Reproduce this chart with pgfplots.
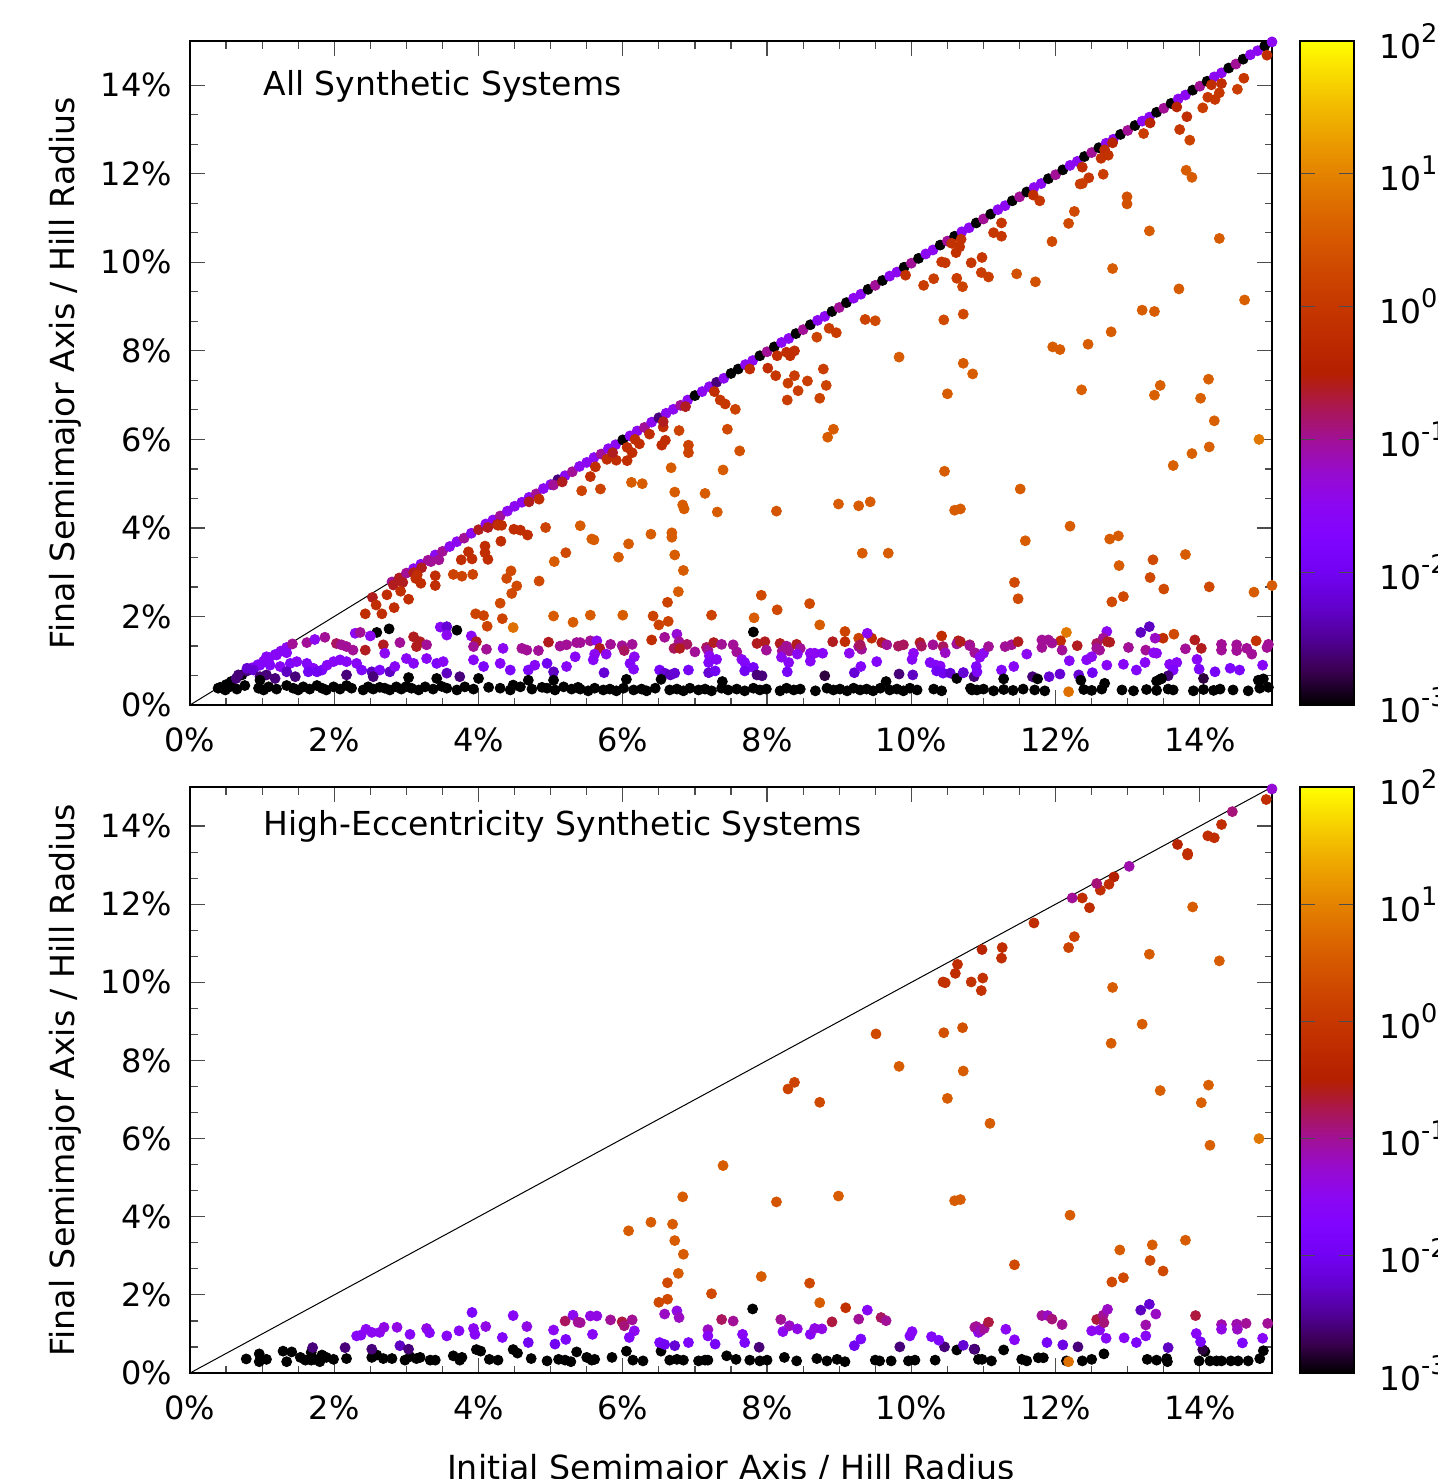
\documentclass[border=0pt]{standalone}
\usepackage{fontspec}
\setmainfont{DejaVu Sans}
\usepackage{pgfplots}
\pgfplotsset{compat=1.18}
\usepackage{pgfplotstable}

\newcommand\cbexp[1]{10\raisebox{0.48em}{\fontsize{12.8}{14}\selectfont #1}}

% gnuplot rgbformulae 7,5,15 sampled at 0.05
\pgfplotsset{colormap={gnu}{
  rgb=(0,0,0) rgb=(0.224,0.0001,0.309) rgb=(0.316,0.001,0.588) rgb=(0.387,0.003,0.809)
  rgb=(0.447,0.008,0.951) rgb=(0.5,0.016,1) rgb=(0.548,0.027,0.951) rgb=(0.592,0.043,0.809)
  rgb=(0.632,0.064,0.588) rgb=(0.671,0.091,0.309) rgb=(0.707,0.125,0) rgb=(0.742,0.166,0)
  rgb=(0.775,0.216,0) rgb=(0.806,0.275,0) rgb=(0.837,0.343,0) rgb=(0.866,0.422,0)
  rgb=(0.894,0.512,0) rgb=(0.922,0.614,0) rgb=(0.949,0.729,0) rgb=(0.975,0.857,0) rgb=(1,1,0)}}

% x = initial a/R_H (%), y = final a/R_H (%), c = log10 of colour quantity
\pgfplotstableread{
x y c
0.39 0.38 -3
0.49 0.34 -3
0.55 0.41 -3
0.65 0.36 -3
0.76 0.44 -3
0.95 0.38 -3
1.02 0.34 -3
1.09 0.41 -3
1.20 0.36 -3
1.34 0.44 -3
1.43 0.38 -3
1.50 0.34 -3
1.57 0.41 -3
1.66 0.36 -3
1.76 0.44 -3
1.83 0.38 -3
1.89 0.34 -3
1.99 0.41 -3
2.08 0.36 -3
2.17 0.44 -3
2.24 0.38 -3
2.40 0.34 -3
2.47 0.41 -3
2.54 0.36 -3
2.63 0.40 -3
2.70 0.38 -3
2.77 0.34 -3
2.86 0.41 -3
2.93 0.36 -3
3.00 0.42 -3
3.07 0.38 -3
3.17 0.34 -3
3.26 0.41 -3
3.37 0.36 -3
3.49 0.42 -3
3.56 0.38 -3
3.70 0.34 -3
3.81 0.41 -3
3.93 0.36 -3
4.14 0.40 -3
4.30 0.38 -3
4.44 0.34 -3
4.58 0.41 -3
4.74 0.36 -3
4.88 0.40 -3
4.95 0.38 -3
5.06 0.34 -3
5.18 0.41 -3
5.29 0.36 -3
5.38 0.40 -3
5.41 0.36 -3
5.52 0.32 -3
5.61 0.38 -3
5.73 0.34 -3
5.82 0.36 -3
5.91 0.32 -3
6.01 0.38 -3
6.15 0.34 -3
6.26 0.36 -3
6.33 0.32 -3
6.45 0.38 -3
6.65 0.34 -3
6.75 0.36 -3
6.84 0.32 -3
6.93 0.38 -3
7.05 0.34 -3
7.14 0.36 -3
7.23 0.32 -3
7.37 0.38 -3
7.46 0.34 -3
7.58 0.36 -3
7.69 0.32 -3
7.81 0.38 -3
7.90 0.34 -3
7.99 0.36 -3
8.18 0.32 -3
8.27 0.38 -3
8.37 0.34 -3
8.46 0.36 -3
8.67 0.32 -3
8.83 0.38 -3
8.92 0.34 -3
9.01 0.36 -3
9.11 0.32 -3
9.20 0.38 -3
9.29 0.34 -3
9.38 0.36 -3
9.47 0.32 -3
9.57 0.38 -3
9.70 0.34 -3
9.80 0.36 -3
9.89 0.32 -3
9.98 0.38 -3
10.08 0.34 -3
10.31 0.36 -3
10.42 0.32 -3
10.82 0.38 -3
10.91 0.34 -3
10.84 0.34 -3
11.00 0.36 -3
11.14 0.32 -3
11.28 0.35 -3
11.41 0.33 -3
11.55 0.36 -3
11.71 0.34 -3
11.85 0.32 -3
12.39 0.35 -3
12.50 0.33 -3
12.64 0.36 -3
12.92 0.34 -3
13.08 0.32 -3
13.26 0.35 -3
13.40 0.33 -3
13.56 0.36 -3
13.63 0.34 -3
13.91 0.32 -3
14.05 0.35 -3
14.19 0.33 -3
14.28 0.36 -3
14.46 0.34 -3
14.67 0.32 -3
14.83 0.38 -3
14.95 0.40 -3
12.18 0.30 0.8
0.42 0.40 -3
0.50 0.46 -3
0.57 0.53 -3
0.64 0.60 -2.6
0.72 0.68 -3
0.79 0.77 -2.6
0.86 0.84 -1.5
0.94 0.91 -1.8
1.02 0.99 -1.5
1.10 1.07 -1.5
1.18 1.14 -1.8
1.26 1.22 -1.5
1.34 1.30 -1.5
1.42 1.38 -1.0
2.8 2.78 -1.0
2.9 2.87 -0.6
3.0 2.98 -1.0
3.1 3.08 -1.5
3.2 3.18 -1.5
3.3 3.27 -1.0
3.4 3.39 -1.5
3.5 3.47 -1.0
3.6 3.58 -1.5
3.7 3.69 -1.5
3.8 3.77 -1.0
3.9 3.88 -1.5
4.0 3.96 -0.6
4.1 4.09 -1.5
4.2 4.18 -1.5
4.3 4.27 -1.0
4.4 4.38 -1.5
4.5 4.49 -1.5
4.6 4.58 -1.5
4.7 4.69 -1.5
4.8 4.77 -1.0
4.9 4.89 -1.5
5.0 4.98 -1.5
5.1 5.09 -2.6
5.2 5.18 -1.5
5.3 5.27 -1.0
5.4 5.39 -1.5
5.5 5.48 -1.5
5.6 5.59 -1.5
5.7 5.67 -1.0
5.8 5.79 -1.5
5.9 5.88 -1.5
6.0 5.99 -3
6.1 6.08 -1.5
6.2 6.19 -1.5
6.3 6.27 -1.0
6.4 6.39 -1.5
6.5 6.49 -2.6
6.6 6.59 -1.5
6.7 6.68 -1.5
6.8 6.77 -1.0
6.9 6.89 -1.5
7.0 6.99 -3
7.1 7.08 -1.5
7.2 7.19 -1.5
7.3 7.29 -2.6
7.4 7.38 -1.5
7.5 7.49 -3
7.6 7.59 -3
7.7 7.69 -1.5
7.8 7.78 -1.5
7.9 7.89 -3
8.0 7.98 -1.0
8.1 8.09 -3
8.2 8.19 -1.5
8.3 8.28 -1.5
8.4 8.39 -3
8.5 8.48 -1.0
8.6 8.59 -3
8.7 8.69 -1.5
8.8 8.78 -1.5
8.9 8.89 -3
9.0 8.98 -1.0
9.1 9.09 -3
9.2 9.19 -1.5
9.3 9.28 -1.5
9.4 9.39 -3
9.5 9.48 -1.0
9.6 9.59 -3
9.7 9.69 -1.5
9.8 9.78 -1.5
9.9 9.89 -3
10.0 9.98 -1.0
10.1 10.09 -3
10.2 10.19 -1.5
10.3 10.28 -1.5
10.4 10.39 -3
10.5 10.48 -1.0
10.6 10.59 -3
10.7 10.69 -1.5
10.8 10.78 -1.5
10.9 10.89 -3
11.0 10.98 -1.0
11.1 11.09 -3
11.2 11.19 -1.5
11.3 11.28 -1.5
11.4 11.39 -3
11.5 11.48 -1.0
11.6 11.59 -3
11.7 11.69 -1.5
11.8 11.78 -1.5
11.9 11.89 -3
12.0 11.98 -1.0
12.1 12.09 -3
12.2 12.19 -1.5
12.3 12.28 -1.5
12.4 12.39 -3
12.5 12.48 -1.0
12.6 12.59 -3
12.7 12.69 -1.5
12.8 12.78 -1.5
12.9 12.89 -3
13.0 12.98 -1.0
13.1 13.09 -3
13.2 13.19 -1.5
13.3 13.28 -1.5
13.4 13.39 -3
13.5 13.48 -1.0
13.6 13.59 -3
13.7 13.69 -1.5
13.8 13.78 -1.5
13.9 13.89 -3
14.0 13.98 -1.0
14.1 14.09 -3
14.2 14.19 -1.5
14.3 14.28 -1.5
14.4 14.39 -3
14.5 14.48 -1.0
14.6 14.59 -3
14.7 14.69 -1.5
14.8 14.78 -1.5
14.9 14.89 -3
15.0 14.98 -1.5
3.10 2.99 -0.6
3.21 3.10 -0.6
3.45 3.28 -1.0
3.34 3.24 -1.0
4.26 4.08 -0.6
4.70 4.59 -0.6
4.84 4.65 -0.2
5.04 4.97 -1.0
5.16 5.04 -0.6
5.62 5.38 -0.2
5.55 5.16 -0.2
5.43 4.84 0.2
5.69 4.88 0.2
5.78 5.55 -0.2
5.91 5.53 -0.2
6.06 5.52 -0.2
5.86 5.70 -0.6
6.06 5.82 -0.2
6.13 5.70 -0.2
6.17 6.00 -0.2
6.23 5.90 -0.2
6.37 6.12 -0.2
6.56 6.28 -0.2
6.54 5.87 -0.2
6.59 5.98 -0.2
6.56 6.40 -0.6
6.87 6.74 -0.6
6.12 5.03 0.55
6.27 5.00 0.55
4.32 4.06 -0.2
4.13 4.01 -0.6
6.78 6.20 0.2
6.91 5.87 0.2
6.91 5.70 0.2
6.67 5.36 0.55
6.72 4.81 0.55
6.83 4.52 0.55
6.85 4.43 0.55
6.39 3.86 0.55
6.68 3.89 0.55
6.68 3.79 0.55
6.08 3.64 0.55
6.72 3.39 0.55
6.84 3.04 0.55
5.94 3.34 0.55
6.77 2.56 0.55
6.62 2.32 0.2
6.63 1.89 0.2
6.50 1.81 0.2
6.42 2.01 0.2
7.23 2.03 0.2
6.00 2.03 0.55
5.55 2.03 0.55
5.31 1.87 0.55
5.04 2.01 0.55
4.48 1.75 0.8
4.12 1.78 0.2
3.96 2.06 0.2
4.07 2.02 0.2
4.33 1.95 0.2
4.30 2.30 0.3
4.46 2.52 0.3
4.39 2.86 0.3
4.45 3.03 0.3
4.53 2.69 0.3
4.84 2.80 0.3
5.05 3.24 0.55
5.21 3.44 0.3
5.57 3.75 0.55
5.60 3.73 0.55
5.41 4.05 0.55
4.93 4.01 0.2
4.68 3.84 -0.2
4.49 3.97 -0.2
4.58 3.95 -0.2
4.27 4.06 -0.2
4.31 3.70 -0.2
4.09 3.59 -0.2
4.09 3.44 -0.2
4.13 3.29 -0.2
3.91 3.30 -0.2
3.86 3.46 -0.2
3.76 3.28 -0.2
3.65 2.95 0.2
3.77 2.91 0.2
3.92 2.95 0.2
3.40 2.92 -0.2
3.40 2.70 -0.2
3.15 2.94 -0.2
3.13 2.86 -0.2
3.20 2.75 -0.2
2.82 2.71 -0.6
2.95 2.77 -0.6
2.92 2.57 -0.2
3.03 2.39 -0.2
2.73 2.49 -0.2
2.53 2.43 -0.6
2.58 2.26 -0.2
2.83 2.20 -0.2
2.66 2.06 -0.2
2.43 2.06 -0.2
8.14 7.89 -0.2
8.27 7.97 -0.2
8.32 7.89 -0.2
8.38 8.00 -0.2
8.01 7.61 -0.2
8.12 7.44 0.0
8.38 7.44 0.1
8.29 7.27 0.1
8.43 7.10 0.1
8.56 7.32 0.1
8.78 7.59 0.1
8.82 7.22 0.2
8.73 6.93 0.2
8.28 6.89 0.1
7.76 7.59 -0.2
7.35 6.89 0.0
7.42 6.80 0.0
7.56 6.68 0.2
7.45 6.23 0.3
7.62 5.74 0.4
7.39 5.31 0.55
7.27 7.08 -0.2
8.92 6.23 0.55
8.84 6.05 0.55
9.83 7.86 0.55
10.72 7.72 0.55
10.85 7.48 0.55
10.50 7.03 0.55
11.96 8.09 0.55
12.06 8.03 0.55
12.45 8.15 0.55
12.36 7.12 0.6
13.45 7.22 0.6
13.37 7.00 0.6
14.12 7.36 0.6
14.01 6.93 0.6
14.20 6.42 0.6
14.82 6.00 0.9
14.13 5.83 0.6
13.89 5.68 0.6
13.63 5.41 0.6
10.46 5.28 0.55
11.51 4.88 0.55
8.99 4.54 0.55
9.27 4.50 0.55
9.43 4.59 0.55
8.13 4.38 0.45
10.60 4.40 0.55
10.68 4.43 0.55
12.20 4.04 0.55
12.75 3.75 0.55
12.87 3.82 0.55
11.58 3.71 0.55
9.32 3.43 0.55
9.68 3.43 0.55
13.35 3.28 0.3
13.80 3.40 0.55
12.88 3.15 0.55
13.31 2.88 0.3
13.50 2.62 0.3
11.43 2.77 0.3
11.48 2.40 0.3
12.78 2.33 0.3
12.94 2.45 0.3
14.13 2.67 0.3
14.75 2.55 0.55
15.00 2.70 0.55
7.92 2.48 0.3
8.14 2.15 0.3
7.82 1.97 0.55
8.59 2.29 0.3
8.73 1.81 0.55
7.14 4.78 0.55
7.31 4.36 0.55
10.67 10.35 -0.1
10.62 10.22 -0.1
10.69 10.52 -0.1
10.56 10.43 -0.1
9.92 9.71 -0.1
10.98 10.11 0.0
10.83 9.99 0.0
10.97 9.77 0.1
11.07 9.67 0.1
11.46 9.74 0.4
11.72 9.56 0.4
12.79 9.86 0.55
10.42 10.01 0.0
10.47 9.99 0.0
10.63 9.64 0.1
10.71 9.45 0.2
10.31 9.63 0.1
10.17 9.48 0.1
13.71 9.40 0.55
14.62 9.15 0.6
13.20 8.92 0.55
13.37 8.89 0.55
12.77 8.43 0.55
10.72 8.83 0.3
10.45 8.70 0.3
9.36 8.71 0.2
9.50 8.68 0.3
8.86 8.51 0.1
8.96 8.41 0.1
8.69 8.31 0.2
11.25 10.89 0.0
11.14 10.67 0.0
11.25 10.59 0.0
11.95 10.47 0.3
13.30 10.71 0.55
14.27 10.54 0.55
14.93 14.68 -0.2
14.61 14.16 0.0
14.52 13.91 0.1
14.30 14.04 -0.2
14.16 14.01 -0.2
14.11 13.73 0.0
14.21 13.68 0.0
14.27 13.83 0.0
14.04 13.49 0.1
13.82 13.29 -0.2
13.68 13.51 -0.4
13.72 13.00 0.0
13.86 12.76 0.2
13.22 12.91 0.1
13.81 12.08 0.55
13.89 11.92 0.55
13.31 13.15 -0.4
12.79 12.70 -0.4
12.68 12.54 -0.2
12.63 12.35 -0.1
12.73 12.42 -0.1
12.66 11.99 0.1
12.46 11.91 0.0
12.34 11.77 0.1
12.37 11.78 0.1
12.37 12.15 -0.2
11.78 11.39 0.0
11.69 11.52 -0.2
12.99 11.48 0.4
12.99 11.32 0.4
12.26 11.15 0.3
12.18 10.88 0.3
2.59 1.64 -3
2.76 1.72 -3
2.29 1.62 -1.5
2.36 1.64 -1.0
2.50 1.56 -1.5
1.62 1.41 -1.0
1.73 1.48 -1.5
1.87 1.53 -1.0
2.03 1.39 -0.8
2.10 1.36 -1.0
2.17 1.32 -1.0
2.26 1.24 -1.0
2.43 1.24 -0.6
2.68 1.36 -0.6
2.70 1.17 -1.5
2.91 1.41 -1.0
3.10 1.54 -0.6
3.19 1.43 -0.6
3.28 1.36 -1.0
3.47 1.76 -1.6
3.56 1.77 -2.2
3.70 1.69 -3
3.56 1.58 -1.5
3.14 1.32 -0.6
3.90 1.56 -1.5
3.97 1.43 -0.6
3.93 1.32 -1.0
4.11 1.26 -1.0
4.34 1.28 -1.5
4.60 1.28 -1.0
4.67 1.24 -1.0
4.83 1.23 -1.0
4.97 1.42 -0.6
5.13 1.33 -1.0
5.22 1.36 -1.0
5.36 1.41 -1.0
1.06 1.09 -1.6
1.20 1.13 -1.6
1.34 1.18 -1.6
0.97 0.90 -1.7
1.11 0.90 -1.7
1.25 0.87 -1.6
1.39 0.94 -1.7
0.67 0.68 -2.6
0.79 0.83 -2.2
0.88 0.79 -2.2
0.97 0.64 -2.6
1.06 0.68 -2.6
1.48 0.98 -1.6
1.62 0.94 -1.7
1.71 0.83 -1.6
1.83 0.79 -1.8
1.90 0.90 -1.6
1.99 0.98 -1.6
2.08 1.02 -1.6
1.34 0.75 -2.3
1.46 0.64 -2.6
1.64 0.75 -2.0
1.76 0.75 -2.0
2.17 0.98 -1.6
2.31 0.94 -1.6
2.38 0.79 -1.8
2.52 0.75 -2.3
2.63 0.79 -1.8
2.77 0.75 -2.3
2.84 0.87 -1.6
3.00 1.05 -1.6
3.10 0.94 -1.6
3.28 1.05 -1.6
3.42 0.94 -1.8
3.51 0.98 -1.6
3.56 0.72 -2.3
3.74 0.64 -2.6
3.93 1.02 -1.6
4.07 0.87 -1.8
4.30 0.94 -1.6
4.44 0.79 -1.8
4.69 0.79 -1.8
4.78 0.90 -1.6
4.95 0.94 -2.0
5.04 0.75 -2.3
5.22 0.87 -1.6
5.34 1.09 -1.6
4.00 0.60 -3
4.48 0.45 -3
4.69 0.56 -3
5.04 0.56 -3
3.42 0.60 -3
2.17 0.68 -2.6
2.54 0.64 -2.6
3.03 0.62 -3
0.97 0.56 -3
1.18 0.60 -2.6
7.81 1.65 -3
6.40 1.47 -0.2
9.08 1.66 0.2
9.08 1.43 -0.2
9.27 1.51 0.2
9.45 1.51 -0.2
9.39 1.62 -1.5
10.42 1.56 -0.2
5.41 1.41 -1.0
5.55 1.45 -1.0
5.64 1.45 -1.5
5.68 1.28 -0.6
5.61 1.15 -1.5
5.59 1.02 -1.6
5.77 1.15 -1.5
5.83 1.37 -1.0
5.99 1.34 -1.0
6.02 1.23 -0.8
6.13 1.37 -1.0
6.16 1.09 -1.5
6.10 0.94 -1.7
6.15 0.81 -1.7
6.58 1.53 -1.0
6.75 1.60 -1.3
6.78 1.43 -1.0
6.71 1.28 -0.8
6.89 1.37 -0.8
6.79 1.28 -0.6
7.00 1.20 -1.0
7.16 1.30 -0.8
7.18 1.24 -1.0
7.20 1.11 -1.5
7.19 0.96 -1.7
7.30 1.03 -1.6
7.26 1.41 -0.6
7.37 1.37 -1.0
7.53 1.36 -1.0
7.58 1.20 -1.0
7.65 1.03 -1.5
7.69 0.96 -1.7
7.86 1.39 -0.6
7.97 1.43 -0.6
7.99 1.24 -1.0
8.18 1.39 -0.6
8.27 1.33 -1.0
8.21 1.22 -1.0
8.20 1.08 -1.5
8.31 1.22 -1.0
8.30 0.96 -1.6
8.41 1.37 -0.6
8.46 1.28 -1.0
8.42 1.15 -1.5
8.60 1.17 -1.5
8.66 1.17 -1.5
8.77 1.17 -1.6
8.60 0.99 -1.6
8.91 1.43 -0.6
9.14 1.17 -1.5
9.21 0.73 -2.2
9.30 0.87 -1.7
9.52 0.98 -1.7
9.27 1.32 -1.0
9.31 1.26 -1.0
9.29 1.36 -0.8
9.59 1.41 -0.6
9.66 1.36 -1.0
9.82 1.33 -0.8
9.89 1.36 -0.8
10.12 1.41 -0.6
10.14 1.33 -0.8
10.30 1.36 -1.0
10.44 1.32 -0.8
10.47 1.18 -1.2
10.65 1.45 -0.6
10.63 1.38 -1.0
10.81 1.36 -0.8
10.88 1.18 -1.0
10.03 1.17 -1.5
10.01 1.03 -1.6
10.26 0.96 -1.7
10.34 0.90 -1.7
10.40 0.88 -1.6
5.74 0.73 -2.2
6.51 0.79 -1.9
6.58 0.72 -2.2
6.66 0.68 -2.3
6.72 0.72 -2.2
6.91 0.79 -1.9
7.19 0.73 -2.2
7.28 0.77 -2.0
7.69 0.77 -2.0
7.81 0.85 -1.9
7.86 0.68 -2.6
7.93 0.66 -2.6
8.28 0.75 -1.9
8.80 0.66 -2.8
9.83 0.70 -2.6
10.02 0.68 -2.3
10.35 0.77 -2.0
10.44 0.72 -2.0
10.54 0.72 -2.2
10.72 0.73 -1.9
10.87 0.64 -2.6
6.05 0.58 -3
6.53 0.58 -3
7.38 0.53 -3
9.65 0.53 -3
10.63 0.60 -3
12.15 1.64 0.9
13.64 1.60 0.3
14.78 1.45 -0.1
13.49 1.51 -0.2
13.18 1.64 -2.3
13.30 1.77 -2.3
12.07 1.45 -0.2
12.71 1.66 -1.5
12.66 1.51 -1.0
12.57 1.39 -0.8
12.72 1.43 -0.6
12.75 1.42 -0.6
10.68 1.43 -0.6
10.81 1.34 -1.0
10.95 1.08 -1.5
11.00 1.17 -1.5
11.07 1.32 -1.0
11.30 1.32 -1.0
11.39 1.36 -1.0
11.48 1.43 -0.6
11.60 1.15 -1.5
11.81 1.47 -1.0
11.90 1.47 -1.0
11.81 1.30 -1.0
11.95 1.40 -1.0
12.09 1.24 -1.0
12.30 1.34 -0.6
12.57 1.28 -1.0
12.61 1.24 -1.0
13.01 1.30 -1.0
13.25 1.24 -1.0
13.38 1.51 -1.2
13.40 1.17 -1.5
13.36 1.18 -1.5
13.80 1.27 -1.0
13.93 1.47 -0.6
14.02 1.28 -0.6
14.30 1.24 -1.0
14.30 1.37 -1.0
14.51 1.36 -1.0
14.51 1.23 -1.0
14.65 1.28 -1.0
14.72 1.15 -1.0
14.93 1.30 -1.0
14.95 1.37 -1.0
10.90 0.87 -1.7
10.91 0.75 -1.8
11.25 0.79 -1.7
11.42 0.87 -1.6
12.19 1.00 -1.6
12.43 1.02 -1.6
12.50 1.09 -1.5
12.71 0.90 -1.6
12.94 0.92 -1.6
13.12 0.79 -1.7
13.24 0.96 -1.6
13.58 0.92 -1.6
13.68 0.96 -1.6
13.63 0.79 -1.8
13.96 1.03 -1.6
13.99 0.81 -1.8
14.21 0.75 -1.9
14.42 0.83 -1.8
14.55 0.79 -1.8
14.87 0.90 -1.6
10.72 0.73 -2.2
11.68 0.64 -2.6
11.91 0.64 -2.2
12.06 0.70 -2.2
12.32 0.68 -2.2
12.51 0.73 -2.0
13.56 0.66 -2.6
14.05 0.60 -2.8
13.45 0.58 -2.8
11.28 0.59 -3
11.75 0.59 -3
12.35 0.56 -3
12.68 0.49 -3
13.40 0.54 -3
13.47 0.60 -3
14.81 0.56 -3
14.88 0.59 -3
}\topdata

\pgfplotstableread{
x y c
0.78 0.36 -3
0.96 0.49 -3
0.96 0.29 -3
1.06 0.35 -3
1.29 0.56 -3
1.34 0.29 -3
1.41 0.54 -3
1.53 0.40 -3
1.60 0.33 -3
1.68 0.53 -3
1.68 0.33 -3
1.73 0.35 -3
1.80 0.29 -3
1.83 0.46 -3
1.89 0.40 -3
1.99 0.35 -3
2.17 0.37 -3
2.52 0.40 -3
2.59 0.46 -3
2.68 0.37 -3
2.80 0.37 -3
2.98 0.33 -3
3.05 0.42 -3
3.14 0.37 -3
3.19 0.40 -3
3.33 0.33 -3
3.40 0.33 -3
3.65 0.44 -3
3.77 0.40 -3
3.74 0.33 -3
3.97 0.60 -3
4.03 0.56 -3
4.15 0.35 -3
4.27 0.33 -3
4.48 0.60 -3
4.54 0.51 -3
4.73 0.37 -3
4.95 0.31 -3
5.11 0.35 -3
5.20 0.33 -3
5.28 0.29 -3
5.36 0.54 -3
5.50 0.40 -3
5.57 0.33 -3
5.61 0.35 -3
5.85 0.40 -3
6.05 0.56 -3
6.14 0.33 -3
6.28 0.31 -3
6.53 0.56 -3
6.65 0.33 -3
6.75 0.35 -3
6.84 0.33 -3
7.05 0.31 -3
7.14 0.33 -3
7.18 0.33 -3
7.44 0.44 -3
7.57 0.35 -3
7.76 0.33 -3
7.90 0.31 -3
8.00 0.33 -3
8.24 0.40 -3
8.41 0.31 -3
8.69 0.37 -3
8.83 0.31 -3
8.97 0.35 -3
9.08 0.29 -3
9.50 0.33 -3
9.56 0.31 -3
9.72 0.31 -3
9.96 0.31 -3
10.05 0.33 -3
10.33 0.33 -3
10.63 0.59 -3
10.93 0.35 -3
10.98 0.35 -3
11.11 0.31 -3
11.28 0.59 -3
11.53 0.35 -3
11.60 0.31 -3
11.76 0.39 -3
11.83 0.39 -3
12.15 0.31 -3
12.37 0.31 -3
12.50 0.35 -3
12.67 0.49 -3
13.27 0.35 -3
13.40 0.33 -3
13.54 0.37 -3
13.55 0.29 -3
13.99 0.31 -3
14.07 0.55 -3
14.14 0.31 -3
14.23 0.31 -3
14.30 0.31 -3
14.43 0.31 -3
14.53 0.31 -3
14.67 0.31 -3
14.83 0.37 -3
14.88 0.57 -3
7.80 1.64 -3
12.18 0.29 0.8
1.70 0.65 -2.6
2.15 0.65 -2.6
2.52 0.61 -2.6
2.91 0.70 -2.3
3.03 0.61 -2.6
7.89 0.66 -2.6
9.84 0.67 -2.6
10.46 0.67 -2.6
10.88 0.61 -2.8
10.72 0.71 -2.2
10.87 0.61 -2.6
12.31 0.67 -2.6
14.04 0.60 -2.8
13.56 0.65 -2.3
13.18 1.61 -2.3
13.30 1.76 -2.2
2.31 0.95 -1.6
2.37 0.97 -1.6
2.44 1.12 -1.5
2.52 1.04 -1.5
2.63 1.04 -1.5
2.69 1.17 -1.4
2.87 1.17 -1.4
3.05 0.99 -1.6
3.28 1.14 -1.4
3.32 1.03 -1.6
3.56 0.95 -1.6
3.73 1.08 -1.6
3.91 1.55 -1.8
3.93 1.14 -1.5
3.95 0.99 -1.6
4.10 1.19 -1.4
4.33 0.91 -1.7
4.48 1.47 -1.6
4.67 1.19 -1.4
4.69 0.78 -2.0
5.04 1.10 -1.5
5.06 0.74 -2.0
5.21 0.86 -1.8
5.20 1.33 -0.8
5.31 1.48 -1.5
5.38 1.30 -1.0
5.58 0.99 -1.6
5.55 1.46 -1.4
5.64 1.46 -1.4
5.41 1.29 -1.0
5.83 1.36 -1.0
5.99 1.31 -0.7
6.02 1.21 -0.9
6.13 1.36 -1.0
6.16 1.08 -1.5
6.09 0.91 -1.7
6.51 0.78 -1.8
6.58 0.73 -2.0
6.72 0.70 -2.2
6.91 0.78 -1.8
6.58 1.51 -1.2
6.75 1.59 -1.4
6.78 1.42 -1.2
7.18 1.11 -1.2
7.18 0.95 -1.6
7.28 0.74 -1.9
7.37 1.37 -0.8
7.53 1.33 -1.0
7.66 0.99 -1.6
7.69 0.78 -1.8
8.19 1.37 -1.0
8.22 1.06 -1.5
8.31 1.21 -1.2
8.42 1.13 -1.4
8.60 0.99 -1.6
8.66 1.14 -1.4
8.76 1.13 -1.4
8.90 1.31 -0.7
9.21 0.70 -2.0
9.30 0.87 -1.8
9.27 1.38 -1.0
9.39 1.61 -1.6
9.58 1.42 -0.8
9.65 1.34 -1.0
9.98 0.95 -1.7
10.01 1.06 -1.6
10.28 0.93 -1.7
10.38 0.84 -1.8
10.88 1.17 -1.0
10.93 1.04 -1.5
10.90 1.19 -1.0
10.96 1.08 -1.2
11.01 1.14 -1.0
11.07 1.30 -0.7
11.31 1.12 -1.5
11.43 0.85 -1.6
11.81 1.47 -1.0
11.89 1.47 -1.2
11.95 1.38 -0.9
11.88 0.78 -1.9
12.09 1.24 -1.0
12.10 0.72 -2.1
12.50 1.08 -1.5
12.61 1.10 -1.5
12.57 1.37 -0.7
12.66 1.48 -1.0
12.72 1.63 -1.2
12.67 1.29 -0.9
12.70 0.89 -1.6
12.95 0.90 -1.6
13.12 0.78 -1.8
13.25 0.95 -1.6
13.25 1.23 -1.1
13.39 1.51 -1.2
13.94 1.47 -0.7
13.95 1.01 -1.6
14.01 0.80 -1.8
14.30 1.24 -1.1
14.30 1.12 -1.4
14.51 1.25 -1.1
14.52 1.12 -1.2
14.64 1.27 -1.0
14.59 0.77 -1.8
14.87 0.89 -1.6
14.94 1.27 -1.0
15.00 14.95 -1.3
14.92 14.68 -0.2
14.45 14.37 -0.9
14.30 14.04 -0.2
14.11 13.75 -0.2
14.20 13.70 -0.2
13.69 13.53 -0.4
13.83 13.30 -0.2
13.83 13.26 -0.2
13.90 11.93 0.55
13.02 12.97 -1.1
12.81 12.70 -0.5
12.74 12.51 -0.2
12.62 12.36 -0.2
12.57 12.53 -0.9
12.37 12.16 -0.2
12.23 12.16 -1.0
12.47 11.91 -0.2
11.70 11.52 -0.2
12.26 11.17 0.2
12.18 10.89 0.2
13.30 10.72 0.55
14.27 10.55 0.55
10.98 10.84 -0.4
11.26 10.89 -0.2
11.25 10.62 -0.2
10.64 10.46 -0.2
10.61 10.23 -0.2
10.44 10.01 -0.1
10.47 9.99 -0.1
10.83 10.01 -0.1
10.99 10.11 -0.1
10.97 9.79 -0.1
12.79 9.87 0.55
13.20 8.93 0.55
12.77 8.44 0.55
9.51 8.68 0.3
10.45 8.71 0.4
10.71 8.84 0.4
9.83 7.85 0.55
10.72 7.73 0.55
13.45 7.23 0.6
14.12 7.37 0.6
14.02 6.92 0.6
14.14 5.83 0.6
14.82 6.00 0.9
8.29 7.27 0.2
8.38 7.44 0.2
8.73 6.93 0.3
10.50 7.03 0.55
11.09 6.39 0.55
7.39 5.31 0.55
6.83 4.51 0.55
8.99 4.53 0.55
8.13 4.38 0.45
10.60 4.41 0.55
10.68 4.44 0.55
12.20 4.04 0.55
6.08 3.64 0.55
6.39 3.86 0.55
6.69 3.81 0.55
6.72 3.39 0.55
6.84 3.04 0.55
6.77 2.55 0.55
6.62 2.31 0.3
6.50 1.81 0.3
6.62 1.89 0.3
7.23 2.03 0.3
7.92 2.47 0.55
8.59 2.30 0.3
8.73 1.80 0.55
9.09 1.67 -0.1
11.43 2.77 0.3
12.89 3.15 0.55
13.34 3.28 0.55
13.80 3.40 0.55
13.31 2.88 0.3
13.49 2.61 0.3
12.78 2.33 0.3
12.94 2.44 0.3
}\botdata

\pgfplotsset{
  panel/.style={
    scale only axis, width=541pt,
    xmin=0, xmax=15, ymin=0, ymax=15,
    xtick={0,2,...,14}, ytick={0,2,...,14},
    xticklabels={0\%,2\%,4\%,6\%,8\%,10\%,12\%,14\%},
    yticklabels={0\%,2\%,4\%,6\%,8\%,10\%,12\%,14\%},
    minor x tick num=3, minor y tick num=2,
    tick align=inside, tick pos=both,
    major tick length=7.5pt, minor tick length=3.75pt,
    every tick/.style={black!70, line width=0.6pt},
    axis line style={line width=0.6pt},
    tick label style={font=\fontsize{16}{19}\selectfont},
    xticklabel style={yshift=-8pt},
    yticklabel style={xshift=-5.5pt},
    ylabel={Final Semimajor Axis / Hill Radius},
    every axis y label/.style={at={(axis description cs:-0.1155,0.5)}, rotate=90, anchor=center,
      font=\fontsize{16.6}{19}\selectfont},
    colormap name=gnu,
    point meta min=-3, point meta max=2,
    colorbar,
    colorbar/width=27pt,
    colorbar style={
      at={(parent axis.north east)}, anchor=north west, xshift=5.5pt,
      ytick={-3,-2,-1,0,1,2},
      yticklabels={\cbexp{-3},\cbexp{-2},\cbexp{-1},\cbexp{0},\cbexp{1},\cbexp{2}},
      minor y tick num=0,
      ytick pos=both, yticklabel pos=right,
      tick align=inside, major tick length=7.5pt,
      every tick/.style={black!70, line width=0.6pt},
      axis line style={line width=0.6pt},
      yticklabel style={font=\fontsize{16.5}{19}\selectfont, xshift=9pt},
    },
  },
  dots/.style={scatter, only marks, mark=*, mark size=2.5pt,
    scatter src=explicit,
    scatter/use mapped color={draw=mapped color, fill=mapped color}},
}

\begin{document}
\begin{tikzpicture}
\begin{axis}[panel, height=332pt, at={(95pt,-352.5pt)}, anchor=south west]
  \addplot[black, line width=0.5pt, no marks] coordinates {(0,0) (15,15)};
  \addplot[dots] table[x=x, y=y, meta=c] {\topdata};
  \node[anchor=west, inner sep=0pt, font=\fontsize{16.5}{19}\selectfont] at (axis description cs:0.0675,0.932) {All Synthetic Systems};
\end{axis}
\begin{axis}[panel, height=293pt, at={(95pt,-686.5pt)}, anchor=south west,
    xlabel={Initial Semimajor Axis / Hill Radius},
    every axis x label/.style={at={(axis description cs:0.5,-0.1655)}, anchor=center,
      font=\fontsize{16.6}{19}\selectfont}]
  \addplot[black, line width=0.5pt, no marks] coordinates {(0,0) (15,15)};
  \addplot[dots] table[x=x, y=y, meta=c] {\botdata};
  \node[anchor=west, inner sep=0pt, font=\fontsize{16.5}{19}\selectfont] at (axis description cs:0.0675,0.9334) {High-Eccentricity Synthetic Systems};
\end{axis}
\pgfresetboundingbox
\path (0,0) rectangle (719pt,-739.5pt);
\end{tikzpicture}
\end{document}
